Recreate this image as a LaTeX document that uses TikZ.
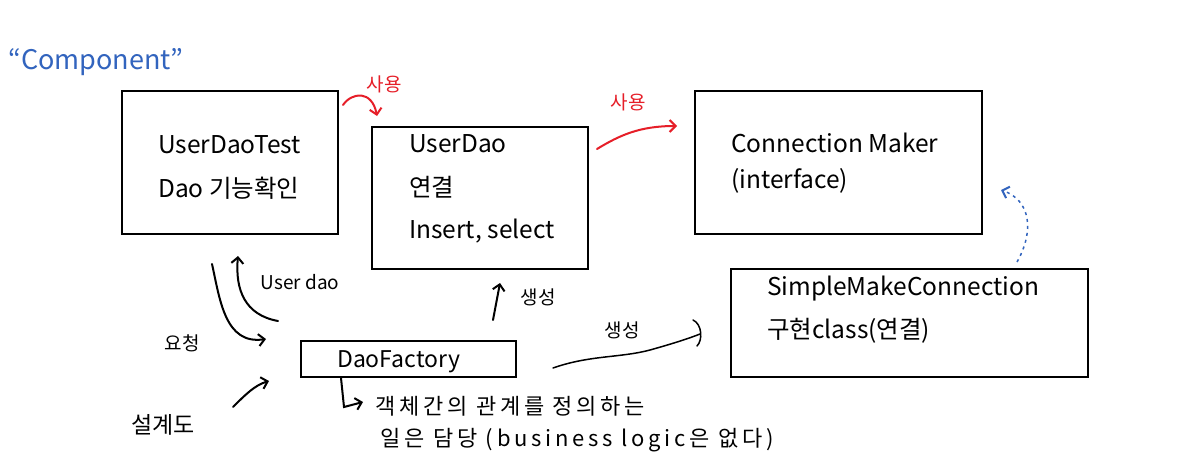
\documentclass[tikz,border=0pt]{standalone}
\usepackage{fontspec}
\setmainfont{Noto Sans CJK KR}
\usetikzlibrary{arrows.meta}
\definecolor{penred}{RGB}{230,30,40}
\definecolor{penblue}{RGB}{50,100,190}
\tikzset{
  box/.style={draw, line width=2pt, anchor=north west, inner sep=0pt},
  lbl/.style={anchor=base west, inner sep=0pt, font=\fontsize{24.5}{26}\selectfont},
  hand/.style={line width=2pt, line cap=round, -{Straight Barb[length=6pt,width=12pt,line width=2pt]}},
  handtxt/.style={inner sep=0pt, font=\fontsize{19}{21}\selectfont},
  notetxt/.style={inner sep=0pt, anchor=base west, font=\fontsize{22}{24}\selectfont\addfontfeatures{LetterSpace=17}},
}
\begin{document}
\begin{tikzpicture}[x=1pt,y=-1pt]
\useasboundingbox[fill=white] (0,0) rectangle (1191,474);
% boxes
\node[box, minimum width=216, minimum height=143] (udt) at (121,90) {};
\node[box, minimum width=216, minimum height=142] (ud) at (371,126) {};
\node[box, minimum width=287, minimum height=143] (cm) at (694,90) {};
\node[box, minimum width=357, minimum height=108] (smc) at (730,268) {};
\node[box, minimum width=215, minimum height=36] (df) at (300,340) {};
% box texts
\node[lbl] (t1) at (158,153) {UserDaoTest};
\node[lbl] (t2) at (158,197) {Dao 기능확인};
\node[lbl] (t3) at (409,152) {UserDao};
\node[lbl] (t4) at (409,196) {연결};
\node[lbl] (t5) at (409,238) {Insert, select};
\node[lbl] (t6) at (731,152) {Connection Maker};
\node[lbl] (t7) at (731,188) {(interface)};
\node[lbl] (t8) at (767,295) {SimpleMakeConnection};
\node[lbl] (t9) at (767,338) {구현class(연결)};
\node[lbl, font=\fontsize{23}{25}\selectfont] (t10) at (337,367) {DaoFactory};
% handwritten labels
\node[handtxt, text=penblue, font=\fontsize{27}{29}\selectfont] (comp) at (96,62) {“Component”};
\node[handtxt, text=penred] (use1) at (384,84) {사용};
\node[handtxt, text=penred] (use2) at (628,102) {사용};
\node[handtxt] (udlbl) at (300,282) {User dao};
\node[handtxt] (req) at (182,343) {요청};
\node[handtxt, font=\fontsize{23}{25}\selectfont] (design) at (163,425) {설계도};
\node[handtxt] (gen1) at (538,297) {생성};
\node[handtxt] (gen2) at (622,330) {생성};
\node[notetxt] (note1) at (375,414) {객체간의 관계를 정의하는};
\node[notetxt] (note2) at (380,446) {일은 담당 (business logic은 없다)};
% coordinates for free ends
\coordinate (a1s) at (343,105);
\coordinate (a1e) at (377,116);
\coordinate (a2s) at (597,149);
\coordinate (a2e) at (677,126);
\coordinate (a3s) at (212,264);
\coordinate (a3e) at (266,339);
\coordinate (a4s) at (278,321);
\coordinate (a4e) at (238,256);
\coordinate (a5s) at (233,407);
\coordinate (a5e) at (269,381);
\coordinate (a6s) at (493,320);
\coordinate (a6e) at (500,283);
\coordinate (a7s) at (553,368);
\coordinate (a7e) at (700,334);
\coordinate (a8s) at (1017,262);
\coordinate (a8e) at (1001,190);
\coordinate (a9s) at (341,378);
\coordinate (a9e) at (363,402);
% red arrows
\draw[hand, penred] (a1s) .. controls (352,92) and (372,90) .. (a1e);
\draw[hand, penred] (a2s) .. controls (620,135) and (640,126) .. (a2e);
% black arrows
\draw[hand] (a3s) .. controls (220,300) and (225,345) .. (a3e);
\draw[hand] (a4s) .. controls (245,315) and (235,290) .. (a4e);
\draw[hand] (a5s) .. controls (245,395) and (255,385) .. (a5e);
\draw[hand] (a6s) -- (a6e);
\draw[line width=1.5pt, line cap=round] (a7s) .. controls (590,355) and (620,358) .. (650,350) .. controls (675,343) and (690,338) .. (a7e);
\draw[line width=1.5pt, line cap=round] (693,320) .. controls (702,324) and (703,340) .. (697,346);
\draw[hand] (a9s) -- (344,407) -- (a9e);
% blue dotted arrow
\draw[penblue, line width=1.5pt, dash pattern=on 3pt off 4pt, -{Straight Barb[length=6pt,width=12pt,line width=2pt]}] (a8s) .. controls (1035,230) and (1030,200) .. (a8e);
\end{tikzpicture}
\end{document}
